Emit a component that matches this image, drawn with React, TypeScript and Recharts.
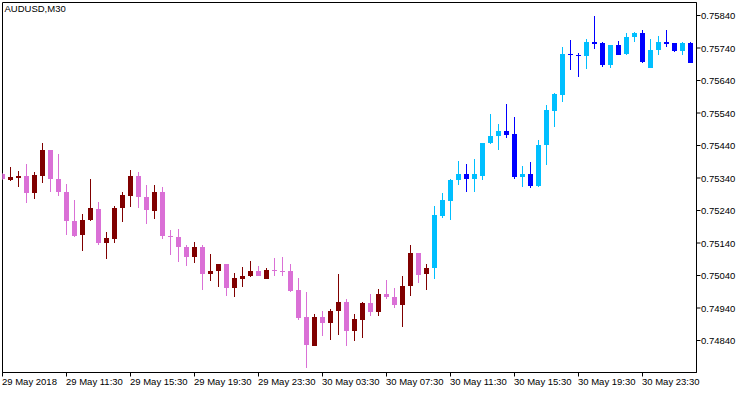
import React from 'react';
import { ComposedChart, Bar, XAxis, YAxis, ReferenceArea } from 'recharts';

const chartTitle = 'AUDUSD,M30';

const opens = [
  0.75351, 0.75335, 0.75339, 0.75345, 0.75293, 0.75346, 0.75425, 0.75338, 0.75298, 0.75209,
  0.75164, 0.75210, 0.75246, 0.75139, 0.75152, 0.75247, 0.75286, 0.75345, 0.75283, 0.75238,
  0.75298, 0.75161, 0.75160, 0.75127, 0.75096, 0.75129, 0.75044, 0.75053, 0.75074, 0.75001,
  0.75029, 0.75038, 0.75055, 0.75029, 0.75058, 0.75055, 0.75055, 0.74994, 0.74911, 0.74824,
  0.74911, 0.74893, 0.74930, 0.74960, 0.74869, 0.74904, 0.74954, 0.74927, 0.74982, 0.74975,
  0.74949, 0.75007, 0.75108, 0.75044, 0.75062, 0.75222, 0.75269, 0.75333, 0.75351, 0.75336,
  0.75346, 0.75447, 0.75468, 0.75486, 0.75474, 0.75342, 0.75351, 0.75315, 0.75441, 0.75546,
  0.75595, 0.75723, 0.75720, 0.75715, 0.75757, 0.75754, 0.75687, 0.75748, 0.75721, 0.75773,
  0.75785, 0.75678, 0.75733, 0.75760, 0.75754, 0.75730, 0.75754,
];
const highs = [
  0.75354, 0.75375, 0.75363, 0.75382, 0.75360, 0.75449, 0.75426, 0.75415, 0.75323, 0.75271,
  0.75228, 0.75338, 0.75265, 0.75175, 0.75255, 0.75298, 0.75366, 0.75357, 0.75317, 0.75320,
  0.75311, 0.75179, 0.75182, 0.75135, 0.75142, 0.75135, 0.75105, 0.75074, 0.75074, 0.75049,
  0.75065, 0.75086, 0.75068, 0.75062, 0.75095, 0.75098, 0.75074, 0.75031, 0.74988, 0.74923,
  0.74932, 0.74936, 0.75046, 0.74969, 0.74921, 0.74957, 0.74982, 0.75000, 0.75025, 0.75003,
  0.75040, 0.75135, 0.75108, 0.75074, 0.75255, 0.75295, 0.75338, 0.75391, 0.75382, 0.75397,
  0.75449, 0.75538, 0.75505, 0.75569, 0.75529, 0.75378, 0.75388, 0.75458, 0.75566, 0.75603,
  0.75742, 0.75766, 0.75726, 0.75769, 0.75837, 0.75757, 0.75748, 0.75763, 0.75785, 0.75788,
  0.75794, 0.75769, 0.75778, 0.75794, 0.75754, 0.75760, 0.75757,
];
const lows = [
  0.75335, 0.75332, 0.75312, 0.75262, 0.75275, 0.75324, 0.75298, 0.75284, 0.75164, 0.75160,
  0.75115, 0.75209, 0.75133, 0.75090, 0.75139, 0.75204, 0.75252, 0.75249, 0.75198, 0.75213,
  0.75152, 0.75102, 0.75083, 0.75069, 0.75080, 0.74995, 0.75022, 0.75004, 0.74976, 0.74973,
  0.75004, 0.75035, 0.75038, 0.75029, 0.75038, 0.75038, 0.74989, 0.74902, 0.74755, 0.74822,
  0.74853, 0.74841, 0.74856, 0.74822, 0.74838, 0.74847, 0.74915, 0.74915, 0.74967, 0.74939,
  0.74881, 0.74976, 0.75016, 0.74995, 0.75029, 0.75216, 0.75210, 0.75318, 0.75296, 0.75296,
  0.75333, 0.75444, 0.75426, 0.75462, 0.75336, 0.75312, 0.75309, 0.75312, 0.75379, 0.75496,
  0.75573, 0.75672, 0.75650, 0.75675, 0.75736, 0.75681, 0.75678, 0.75717, 0.75718, 0.75758,
  0.75693, 0.75678, 0.75718, 0.75742, 0.75727, 0.75720, 0.75693,
];
const closes = [
  0.75338, 0.75342, 0.75345, 0.75293, 0.75348, 0.75425, 0.75336, 0.75296, 0.75207, 0.75163,
  0.75212, 0.75249, 0.75139, 0.75154, 0.75249, 0.75289, 0.75345, 0.75281, 0.75241, 0.75298,
  0.75161, 0.75157, 0.75127, 0.75096, 0.75129, 0.75044, 0.75055, 0.75074, 0.75001, 0.75031,
  0.75040, 0.75055, 0.75038, 0.75058, 0.75053, 0.75054, 0.74992, 0.74909, 0.74826, 0.74911,
  0.74893, 0.74932, 0.74960, 0.74869, 0.74905, 0.74955, 0.74927, 0.74982, 0.74973, 0.74949,
  0.75009, 0.75108, 0.75041, 0.75062, 0.75225, 0.75271, 0.75335, 0.75351, 0.75336, 0.75351,
  0.75449, 0.75468, 0.75486, 0.75472, 0.75342, 0.75351, 0.75315, 0.75443, 0.75548, 0.75597,
  0.75723, 0.75718, 0.75715, 0.75757, 0.75752, 0.75687, 0.75748, 0.75720, 0.75775, 0.75785,
  0.75696, 0.75735, 0.75760, 0.75752, 0.75730, 0.75754, 0.75693,
];
// trend state of the coloring indicator: D = down, U = up
const trends = [
  'D','D','D','D','D','D','D','D','D','D',
  'D','D','D','D','D','D','D','D','D','D',
  'D','D','D','D','D','D','D','D','D','D',
  'D','D','D','D','D','D','D','D','D','D',
  'D','D','D','D','D','D','D','D','D','D',
  'D','D','D','D','U','U','U','U','U','U',
  'U','U','U','U','U','U','U','U','U','U',
  'U','U','U','U','U','U','U','U','U','U',
  'U','U','U','U','U','U','U',
];

const xTickIdx = [0, 8, 16, 24, 32, 40, 48, 56, 64, 72, 80];
const xTickLabels = [
  '29 May 2018', '29 May 11:30', '29 May 15:30', '29 May 19:30', '29 May 23:30',
  '30 May 03:30', '30 May 07:30', '30 May 11:30', '30 May 15:30', '30 May 19:30', '30 May 23:30',
];
const yTicks = [0.7484, 0.7494, 0.7504, 0.7514, 0.7524, 0.7534, 0.7544, 0.7554, 0.7564, 0.7574, 0.7584];

const X_DOMAIN: [number, number] = [0, 86.75];
const Y_DOMAIN: [number, number] = [0.7474154, 0.7588];

const COLORS: Record<string, { bull: string; bear: string }> = {
  D: { bull: '#800000', bear: '#DA70D6' },
  U: { bull: '#00BFFF', bear: '#0000FF' },
};

const FONT = 'Liberation Sans, Arial, sans-serif';

const data = opens.map((o, i) => ({
  i,
  open: o,
  high: highs[i],
  low: lows[i],
  close: closes[i],
  trend: trends[i],
  range: [lows[i], highs[i]],
}));

function Candle(props: any) {
  const { x, y, width, height, payload } = props;
  if (payload == null || x == null || y == null || !isFinite(x) || !isFinite(y)) return null;
  const top = Math.min(y, y + height);
  const bot = Math.max(y, y + height);
  const hi = payload.high;
  const lo = payload.low;
  const span = hi - lo;
  const py = (v: number) => (span > 0 ? top + ((bot - top) * (hi - v)) / span : top);
  const cx = Math.floor(x + width / 2) + 0.5;
  const bull = payload.close > payload.open;
  const color = bull ? COLORS[payload.trend].bull : COLORS[payload.trend].bear;
  const wTop = Math.round(top);
  const wBot = Math.round(bot);
  const bTop = Math.round(py(Math.max(payload.open, payload.close)));
  const bBot = Math.round(py(Math.min(payload.open, payload.close)));
  return (
    <g>
      <rect x={cx - 0.5} y={wTop} width={1} height={Math.max(1, wBot - wTop)} fill={color} />
      <rect x={cx - 2.5} y={bTop} width={5} height={Math.max(1, bBot - bTop)} fill={color} />
    </g>
  );
}

function XTick(props: any) {
  const { x, y, payload } = props;
  const k = xTickIdx.indexOf(payload.value);
  return (
    <text x={x - 0.5} y={y + 8.5} fontSize={9.5} fontFamily={FONT} fill="#000" textAnchor="start">
      {k >= 0 ? xTickLabels[k] : ''}
    </text>
  );
}

function YTick(props: any) {
  const { x, y, payload } = props;
  return (
    <text x={x + 0.5} y={y + 3.5} fontSize={9.5} fontFamily={FONT} fill="#000" textAnchor="start">
      {Number(payload.value).toFixed(5)}
    </text>
  );
}

export default function App() {
  return (
    <div style={{ position: 'absolute', left: 0, top: 0, width: 750, height: 394, background: '#fff' }}>
      <ComposedChart
        width={750}
        height={394}
        data={data}
        margin={{ top: 2.5, left: 2.5, right: 0, bottom: 0 }}
      >
        <XAxis
          dataKey="i"
          type="number"
          domain={X_DOMAIN}
          allowDataOverflow
          ticks={xTickIdx}
          interval={0}
          height={21.5}
          tickSize={4}
          tickMargin={0}
          tick={<XTick />}
          axisLine={{ stroke: '#000' }}
          tickLine={{ stroke: '#000' }}
        />
        <YAxis
          orientation="right"
          type="number"
          domain={Y_DOMAIN}
          allowDataOverflow
          ticks={yTicks}
          interval={0}
          width={53.5}
          tickSize={4}
          tickMargin={0}
          tick={<YTick />}
          axisLine={{ stroke: '#000' }}
          tickLine={{ stroke: '#000' }}
        />
        <ReferenceArea
          x1={X_DOMAIN[0]}
          x2={X_DOMAIN[1]}
          y1={Y_DOMAIN[0]}
          y2={Y_DOMAIN[1]}
          fill="none"
          fillOpacity={0}
          stroke="#000"
          strokeWidth={1}
          ifOverflow="visible"
        />
        <Bar dataKey="range" barSize={4} shape={<Candle />} isAnimationActive={false} />
      </ComposedChart>
      <svg width={750} height={20} style={{ position: 'absolute', left: 0, top: 0, pointerEvents: 'none' }}>
        <text x={4.5} y={11.5} fontSize={9.5} fontFamily={FONT} fill="#000">
          {chartTitle}
        </text>
      </svg>
    </div>
  );
}
